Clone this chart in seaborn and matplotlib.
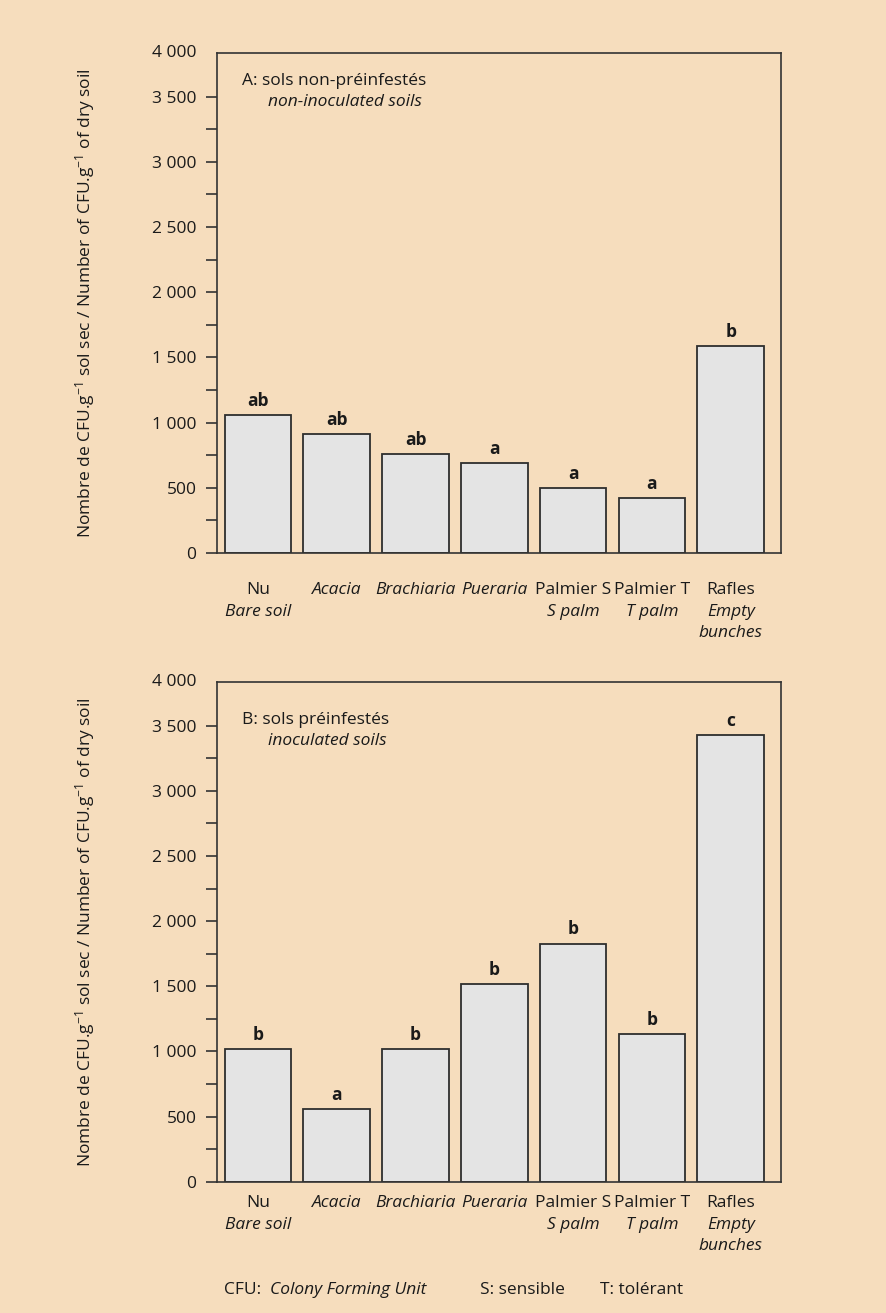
import matplotlib
matplotlib.use("Agg")
import matplotlib.pyplot as plt
import matplotlib.transforms as mtransforms
from matplotlib.ticker import MultipleLocator, FixedLocator, FixedFormatter
import seaborn as sns
import pandas as pd

# ---- data -------------------------------------------------------------
categories = ["Nu", "Acacia", "Brachiaria", "Pueraria", "Palmier S", "Palmier T", "Rafles"]
label_first = ["Nu", "Acacia", "Brachiaria", "Pueraria", "Palmier S", "Palmier T", "Rafles"]
label_first_italic = [False, True, True, True, False, False, False]
label_more = [["Bare soil"], [], [], [], ["S palm"], ["T palm"], ["Empty", "bunches"]]

cfu_non_inoculated = [1060, 910, 760, 692, 501, 424, 1590]
letters_non_inoculated = ["ab", "ab", "ab", "a", "a", "a", "b"]

cfu_inoculated = [1015, 557, 1015, 1514, 1828, 1135, 3425]
letters_inoculated = ["b", "a", "b", "b", "b", "b", "c"]

ytick_values = [0, 500, 1000, 1500, 2000, 2500, 3000, 3500]
ytick_labels = ["0", "500", "1 000", "1 500", "2 000", "2 500", "3 000", "3 500"]
top_label = "4 000"

# ---- style ------------------------------------------------------------
BG = "#F6DDBD"
BAR = "#E4E4E4"
EDGE = "#2E2E2E"
INK = "#1A1A1A"
FONT = "Open Sans"
FS = 12.5

sns.set_theme(style="ticks")
plt.rcParams["font.family"] = [FONT, "DejaVu Sans"]
plt.rcParams["mathtext.fontset"] = "custom"
plt.rcParams["mathtext.rm"] = FONT
plt.rcParams["mathtext.it"] = FONT + ":italic"
plt.rcParams["text.color"] = INK

W, H = 886, 1313
fig = plt.figure(figsize=(W / 100, H / 100), dpi=100, facecolor=BG)

left_px, right_px = 216.7, 781.0
YTOP = 3835


def make_axes(top_px, bottom_px):
    return fig.add_axes([left_px / W, 1 - bottom_px / H,
                         (right_px - left_px) / W, (bottom_px - top_px) / H])


def draw_panel(ax, values, letters, title1, title2, title_y, label_gap_px):
    df = pd.DataFrame({"cat": categories, "val": values})
    sns.barplot(data=df, x="cat", y="val", color=BAR, saturation=1,
                edgecolor=EDGE, linewidth=1.3, width=0.846, ax=ax)
    ax.set_facecolor(BG)
    ax.set_xlim(-0.524, 6.638)
    ax.set_ylim(0, YTOP)
    ax.set_xlabel("")
    ax.set_ylabel("")

    for s in ax.spines.values():
        s.set_visible(True)
        s.set_color("#333333")
        s.set_linewidth(1.2)

    ax.yaxis.set_major_locator(FixedLocator(ytick_values))
    ax.yaxis.set_major_formatter(FixedFormatter(ytick_labels))
    ax.yaxis.set_minor_locator(FixedLocator([250, 750, 1250, 1750, 2250, 2750, 3250]))
    ax.tick_params(axis="y", which="both", direction="out", length=8, width=1.2,
                   color="#333333", pad=6.5, labelsize=FS, labelcolor=INK)
    ax.tick_params(axis="x", length=0, labelbottom=False)

    # label at the upper end of the axis
    ax.text(-(20 / (right_px - left_px)), 1.0, top_label, transform=ax.transAxes,
            ha="right", va="center", fontsize=FS, color=INK)

    # significance letters above bars
    for i, (v, let) in enumerate(zip(values, letters)):
        ax.annotate(let, (i, v), xytext=(0, 6.5), textcoords="offset points",
                    ha="center", va="baseline", fontsize=FS, fontweight="bold",
                    color=INK)

    # category labels
    h_px = ax.get_position().height * H
    trans = mtransforms.blended_transform_factory(ax.transData, ax.transAxes)
    for i in range(len(categories)):
        lines = [(label_first[i], label_first_italic[i])] + [(t, True) for t in label_more[i]]
        for k, (txt, ital) in enumerate(lines):
            y = -(label_gap_px + 21.5 * k) / h_px
            ax.text(i, y, txt, transform=trans, ha="center", va="center",
                    fontsize=FS, fontstyle="italic" if ital else "normal",
                    color=INK, clip_on=False)

    # panel heading
    ax.text(0.0443, title_y[0], title1, transform=ax.transAxes, ha="left",
            va="baseline", fontsize=FS, color=INK)
    ax.text(0.0909, title_y[1], title2, transform=ax.transAxes, ha="left",
            va="baseline", fontsize=FS, fontstyle="italic", color=INK)


axA = make_axes(53, 553)
draw_panel(axA, cfu_non_inoculated, letters_non_inoculated,
           "A: sols non-préinfestés", "non-inoculated soils", (0.936, 0.894), 37)

axB = make_axes(682, 1181.7)
draw_panel(axB, cfu_inoculated, letters_inoculated,
           "B: sols préinfestés", "inoculated soils", (0.916, 0.874), 21.6)

ylabel = "Nombre de CFU.g$^{-1}$ sol sec / Number of CFU.g$^{-1}$ of dry soil"
for top_px, bottom_px in [(53, 553), (682, 1181.7)]:
    fig.text(85 / W, 1 - (top_px + bottom_px) / 2 / H, ylabel, rotation=90,
             ha="center", va="center", fontsize=FS, color=INK)

# footnote
fy = 1 - 1290 / H
fig.text(224 / W, fy, "CFU:", ha="left", va="center", fontsize=FS, color=INK)
fig.text(269.7 / W, fy, "Colony Forming Unit", ha="left", va="center",
         fontsize=FS, fontstyle="italic", color=INK)
fig.text(480 / W, fy, "S: sensible", ha="left", va="center", fontsize=FS, color=INK)
fig.text(600 / W, fy, "T: tolérant", ha="left", va="center", fontsize=FS, color=INK)

fig.savefig("out.png", dpi=100, facecolor=BG)
